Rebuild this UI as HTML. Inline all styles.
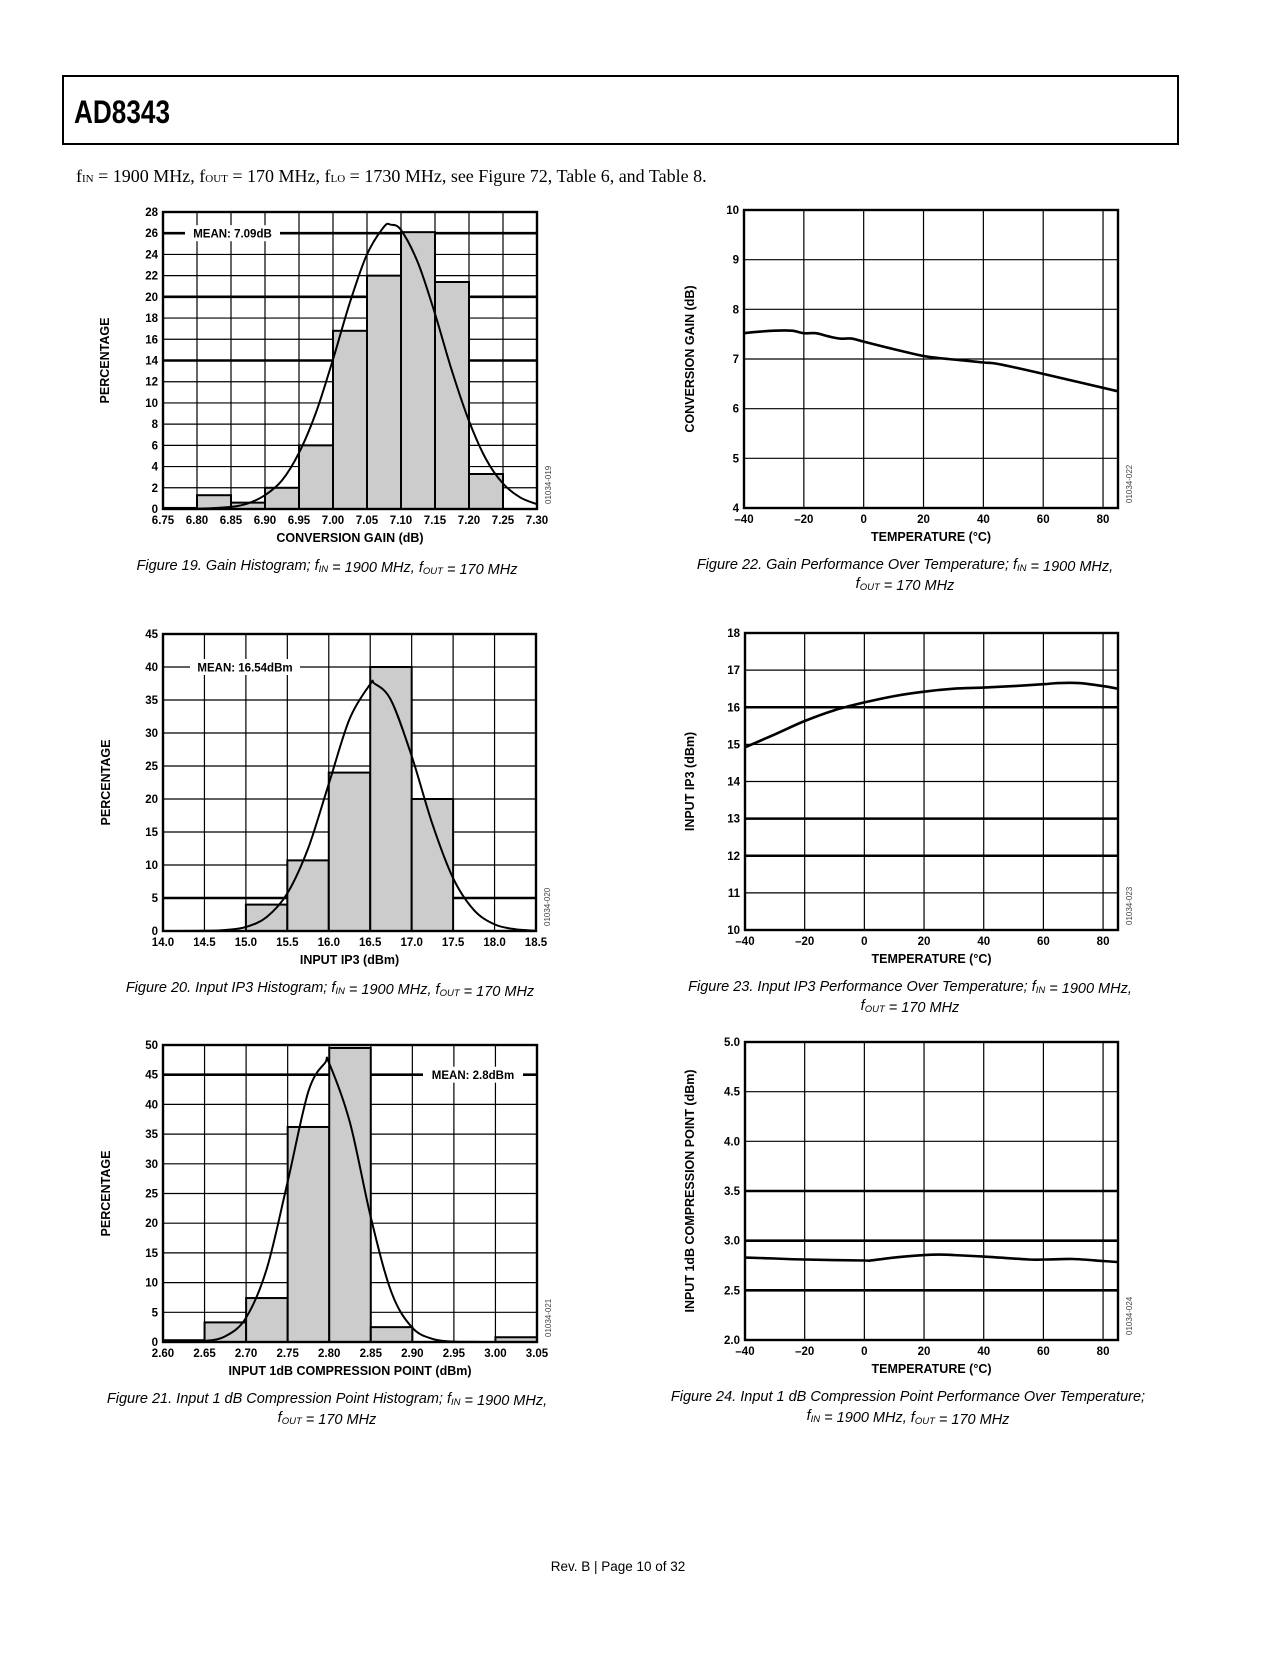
<!DOCTYPE html>
<html><head><meta charset="utf-8"><style>
html,body{margin:0;padding:0;background:#fff;}
svg text{font-family:"Liberation Sans",Arial,sans-serif;}
.tk{font-size:11.5px;font-weight:bold;}
.ax{font-size:12.5px;font-weight:bold;}
.cap{font-size:14.5px;font-style:italic;}
.id{font-size:8px;fill:#444;}
</style></head><body>
<svg id="page" width="1275" height="1650" viewBox="0 0 1275 1650" xmlns="http://www.w3.org/2000/svg">
<rect x="63" y="76" width="1115" height="68" fill="none" stroke="#000" stroke-width="2"/>
<text x="74" y="123" style="font-family:'Liberation Sans Narrow','Liberation Sans',sans-serif;font-size:32px;font-weight:bold" textLength="96" lengthAdjust="spacingAndGlyphs">AD8343</text>
<text x="76" y="182" style="font-family:'Liberation Serif',serif;font-size:18px">f<tspan font-size="11">IN</tspan> = 1900 MHz, f<tspan font-size="11">OUT</tspan> = 170 MHz, f<tspan font-size="11">LO</tspan> = 1730 MHz, see Figure 72, Table 6, and Table 8.</text>
<text x="618" y="1571" text-anchor="middle" style="font-size:13.5px">Rev. B | Page 10 of 32</text>
<g id="charts"></g>
</svg>
<script>
// ---- Figure 19 data ----
const f19Bins = [6.75,6.80,6.85,6.90,6.95,7.00,7.05,7.10,7.15,7.20,7.25];
const f19Pct = [0.1,1.3,0.6,2.0,6.0,16.8,22.0,26.1,21.4,3.3];
const f19CurveX = [6.75,6.80,6.85,6.875,6.90,6.925,6.95,6.975,7.00,7.025,7.05,7.075,7.085,7.10,7.125,7.15,7.175,7.20,7.225,7.25,7.275,7.30];
const f19CurveY = [0.0,0.02,0.2,0.53,1.3,2.7,5.3,9.1,14.1,19.5,24.0,26.6,26.8,26.3,23.2,18.4,13.0,8.3,4.7,2.4,1.1,0.45];
const f19XTicks = ["6.75","6.80","6.85","6.90","6.95","7.00","7.05","7.10","7.15","7.20","7.25","7.30"];
const f19YTicks = [0,2,4,6,8,10,12,14,16,18,20,22,24,26,28];
// ---- Figure 20 data ----
const f20Bins = [14.0,14.5,15.0,15.5,16.0,16.5,17.0,17.5,18.0,18.5];
const f20Pct = [0,0,4,10.7,24,40,20,0,0];
const f20CurveX = [14.0,14.5,14.75,15.0,15.25,15.5,15.75,16.0,16.25,16.5,16.55,16.75,17.0,17.25,17.5,17.75,18.0,18.25,18.5];
const f20CurveY = [0.0,0.03,0.15,0.61,2.1,5.7,12.5,22.3,32.1,37.4,37.5,35.0,26.5,16.2,8.0,3.2,1.0,0.26,0.05];
const f20XTicks = ["14.0","14.5","15.0","15.5","16.0","16.5","17.0","17.5","18.0","18.5"];
const f20YTicks = [0,5,10,15,20,25,30,35,40,45];
// ---- Figure 21 data ----
const f21Bins = [2.60,2.65,2.70,2.75,2.80,2.85,2.90,2.95,3.00,3.05];
const f21Pct = [0.3,3.3,7.4,36.2,49.5,2.5,0,0,0.8];
const f21CurveX = [2.60,2.625,2.65,2.675,2.70,2.725,2.75,2.775,2.795,2.80,2.825,2.85,2.875,2.90,2.925,2.95,2.975,3.0,3.05];
const f21CurveY = [0.0,0.02,0.16,0.96,4.1,12.4,27,42.2,47,46.9,36.9,21,8.3,2.4,0.49,0.07,0.01,0,0];
const f21XTicks = ["2.60","2.65","2.70","2.75","2.80","2.85","2.90","2.95","3.00","3.05"];
const f21YTicks = [0,5,10,15,20,25,30,35,40,45,50];
// ---- Temperature charts ----
const tempTicks = [-40,-20,0,20,40,60,80];
const f22Temp = [-40,-35,-30,-24,-20,-16,-12,-8,-4,0,10,20,25,30,40,45,60,85];
const f22Gain = [7.52,7.55,7.57,7.57,7.52,7.52,7.46,7.41,7.41,7.35,7.2,7.06,7.02,6.99,6.93,6.9,6.7,6.35];
const f22YTicks = [4,5,6,7,8,9,10];
const f23Temp = [-40,-30,-20,-10,0,10,20,30,40,50,60,65,72,80,85];
const f23IP3 = [14.92,15.27,15.63,15.92,16.13,16.3,16.42,16.5,16.53,16.57,16.62,16.65,16.65,16.57,16.5];
const f23YTicks = [10,11,12,13,14,15,16,17,18];
const f24Temp = [-40,-30,-20,0,2,10,20,25,30,40,55,60,70,80,85];
const f24P1dB = [2.83,2.82,2.81,2.80,2.80,2.83,2.855,2.86,2.855,2.84,2.81,2.81,2.815,2.795,2.785];
const f24YTicks = ["2.0","2.5","3.0","3.5","4.0","4.5","5.0"];

const NS="http://www.w3.org/2000/svg";
const root=document.getElementById('charts');
function mk(tag,attrs,parent,txt){const e=document.createElementNS(NS,tag);for(const k in attrs)e.setAttribute(k,attrs[k]);if(txt!==undefined)e.textContent=txt;(parent||root).appendChild(e);return e;}
function smoothPath(P){
  let d='M'+P[0][0].toFixed(1)+','+P[0][1].toFixed(1);
  for(let i=0;i<P.length-1;i++){
    const p0=P[Math.max(0,i-1)],p1=P[i],p2=P[i+1],p3=P[Math.min(P.length-1,i+2)];
    const c1=[p1[0]+(p2[0]-p0[0])/6,p1[1]+(p2[1]-p0[1])/6];
    const c2=[p2[0]-(p3[0]-p1[0])/6,p2[1]-(p3[1]-p1[1])/6];
    d+=' C'+c1.map(v=>v.toFixed(1)).join(',')+' '+c2.map(v=>v.toFixed(1)).join(',')+' '+p2.map(v=>v.toFixed(1)).join(',');
  }
  return d;
}

function chart(o){
  const g=mk('g',{});
  
  
  const sx=v=>o.L+(v-o.xmin)/(o.xmax-o.xmin)*(o.R-o.L);
  const sy=v=>o.B-(v-o.ymin)/(o.ymax-o.ymin)*(o.B-o.T);
  o.yTicks.forEach(t=>{const v=parseFloat(t);const thick=o.thick.indexOf(v)>=0;
    const l=mk('line',{x1:o.L,x2:o.R,y1:sy(v),y2:sy(v),stroke:'#000','stroke-width':thick?2.6:1.2},g);
    
    
    const tx=mk('text',{x:o.L-5,y:sy(v)+4,'text-anchor':'end',class:'tk'},g,String(t));
    
    
  });
  o.xTicks.forEach(t=>{const v=parseFloat(t);
    const l=mk('line',{x1:sx(v),x2:sx(v),y1:o.T,y2:o.B,stroke:'#000','stroke-width':1.2},g);
    
    
    const lbl=(typeof t==='number'&&t<0)?'\u2013'+Math.abs(t):String(t);
    const tx=mk('text',{x:sx(v),y:o.B+15,'text-anchor':'middle',class:'tk'},g,lbl);
    
    
  });
  if(o.mean){const m=o.mean;
    const r=mk('rect',{x:m.x1,y:sy(m.y)-8,width:m.x2-m.x1,height:16,fill:'#fff'},g);
    
    
    const t=mk('text',{x:(m.x1+m.x2)/2,y:sy(m.y)+4.5,'text-anchor':'middle',class:'tk'},g,m.text);
    
    
  }
  if(o.bins){
    o.pct.forEach((p,i)=>{if(p<=0)return;
      const x0=sx(o.bins[i]),x1=sx(o.bins[i+1]);
      const b=mk('rect',{x:x0,y:sy(p),width:x1-x0,height:o.B-sy(p),fill:'#cccccc',stroke:'#000','stroke-width':2},g);
      
      
    });
  }
  const P=o.cx.map((x,i)=>[sx(x),sy(o.cy[i])]);
  const pl=mk('path',{d:smoothPath(P),fill:'none',stroke:'#000','stroke-width':o.bins?2:2.6,'stroke-linejoin':'round'},g);
  
  
  const fr=mk('rect',{x:o.L,y:o.T,width:o.R-o.L,height:o.B-o.T,fill:'none',stroke:'#000','stroke-width':2.4},g);
  
  
  const xt=mk('text',{x:(o.L+o.R)/2,y:o.B+33,'text-anchor':'middle',class:'ax'},g,o.xTitle);
  
  
  const yt=mk('text',{x:0,y:0,'text-anchor':'middle',class:'ax',transform:`translate(${o.yTitleX},${(o.T+o.B)/2}) rotate(-90)`},g,o.yTitle);
  
  
  const id=mk('text',{x:0,y:0,class:'id',transform:`translate(${o.R+14},${o.B-5}) rotate(-90)`},g,o.id);
  
  
  o.caption.forEach((c,i)=>{
    const t=mk('text',{x:o.capX,y:o.B+61+i*19,'text-anchor':'middle',class:'cap'},g);
    t.innerHTML=c;
    
    
  });
}
const sub=s=>`<tspan font-size="9.5" dy="2">${s}</tspan><tspan dy="-2"></tspan>`;
const capF=`f${sub('IN')} = 1900 MHz, f${sub('OUT')} = 170 MHz`;

chart({name:'figure-19-gain-histogram',L:163,R:537,T:212,B:509,xmin:6.75,xmax:7.30,ymin:0,ymax:28,
  xTicks:f19XTicks,yTicks:f19YTicks,thick:[14,20,26],bins:f19Bins,pct:f19Pct,cx:f19CurveX,cy:f19CurveY,
  mean:{x1:185,x2:280,y:26,text:'MEAN: 7.09dB'},xTitle:'CONVERSION GAIN (dB)',yTitle:'PERCENTAGE',yTitleX:109,id:'01034-019',
  caption:[`Figure 19. Gain Histogram; ${capF}`],capX:327});
chart({name:'figure-20-ip3-histogram',L:163,R:536,T:634,B:931,xmin:14,xmax:18.5,ymin:0,ymax:45,
  xTicks:f20XTicks,yTicks:f20YTicks,thick:[5],bins:f20Bins,pct:f20Pct,cx:f20CurveX,cy:f20CurveY,
  mean:{x1:190,x2:300,y:40,text:'MEAN: 16.54dBm'},xTitle:'INPUT IP3 (dBm)',yTitle:'PERCENTAGE',yTitleX:110,id:'01034-020',
  caption:[`Figure 20. Input IP3 Histogram; ${capF}`],capX:330});
chart({name:'figure-21-p1db-histogram',L:163,R:537,T:1045,B:1342,xmin:2.60,xmax:3.05,ymin:0,ymax:50,
  xTicks:f21XTicks,yTicks:f21YTicks,thick:[45],bins:f21Bins,pct:f21Pct,cx:f21CurveX,cy:f21CurveY,
  mean:{x1:423,x2:523,y:45,text:'MEAN: 2.8dBm'},xTitle:'INPUT 1dB COMPRESSION POINT (dBm)',yTitle:'PERCENTAGE',yTitleX:110,id:'01034-021',
  caption:[`Figure 21. Input 1 dB Compression Point Histogram; f${sub('IN')} = 1900 MHz,`,`f${sub('OUT')} = 170 MHz`],capX:327});
chart({name:'figure-22-gain-vs-temp',L:744,R:1118,T:210,B:508,xmin:-40,xmax:85,ymin:4,ymax:10,
  xTicks:tempTicks,yTicks:f22YTicks,thick:[],cx:f22Temp,cy:f22Gain,
  xTitle:'TEMPERATURE (°C)',yTitle:'CONVERSION GAIN (dB)',yTitleX:694,id:'01034-022',
  caption:[`Figure 22. Gain Performance Over Temperature; f${sub('IN')} = 1900 MHz,`,`f${sub('OUT')} = 170 MHz`],capX:905});
chart({name:'figure-23-ip3-vs-temp',L:745,R:1118,T:633,B:930,xmin:-40,xmax:85,ymin:10,ymax:18,
  xTicks:tempTicks,yTicks:f23YTicks,thick:[16,13,12],cx:f23Temp,cy:f23IP3,
  xTitle:'TEMPERATURE (°C)',yTitle:'INPUT IP3 (dBm)',yTitleX:694,id:'01034-023',
  caption:[`Figure 23. Input IP3 Performance Over Temperature; f${sub('IN')} = 1900 MHz,`,`f${sub('OUT')} = 170 MHz`],capX:910});
chart({name:'figure-24-p1db-vs-temp',L:745,R:1118,T:1042,B:1340,xmin:-40,xmax:85,ymin:2,ymax:5,
  xTicks:tempTicks,yTicks:f24YTicks,thick:[3.5,3.0,2.5],cx:f24Temp,cy:f24P1dB,
  xTitle:'TEMPERATURE (°C)',yTitle:'INPUT 1dB COMPRESSION POINT (dBm)',yTitleX:694,id:'01034-024',
  caption:[`Figure 24. Input 1 dB Compression Point Performance Over Temperature;`,`f${sub('IN')} = 1900 MHz, f${sub('OUT')} = 170 MHz`],capX:908});
</script>
</body></html>
